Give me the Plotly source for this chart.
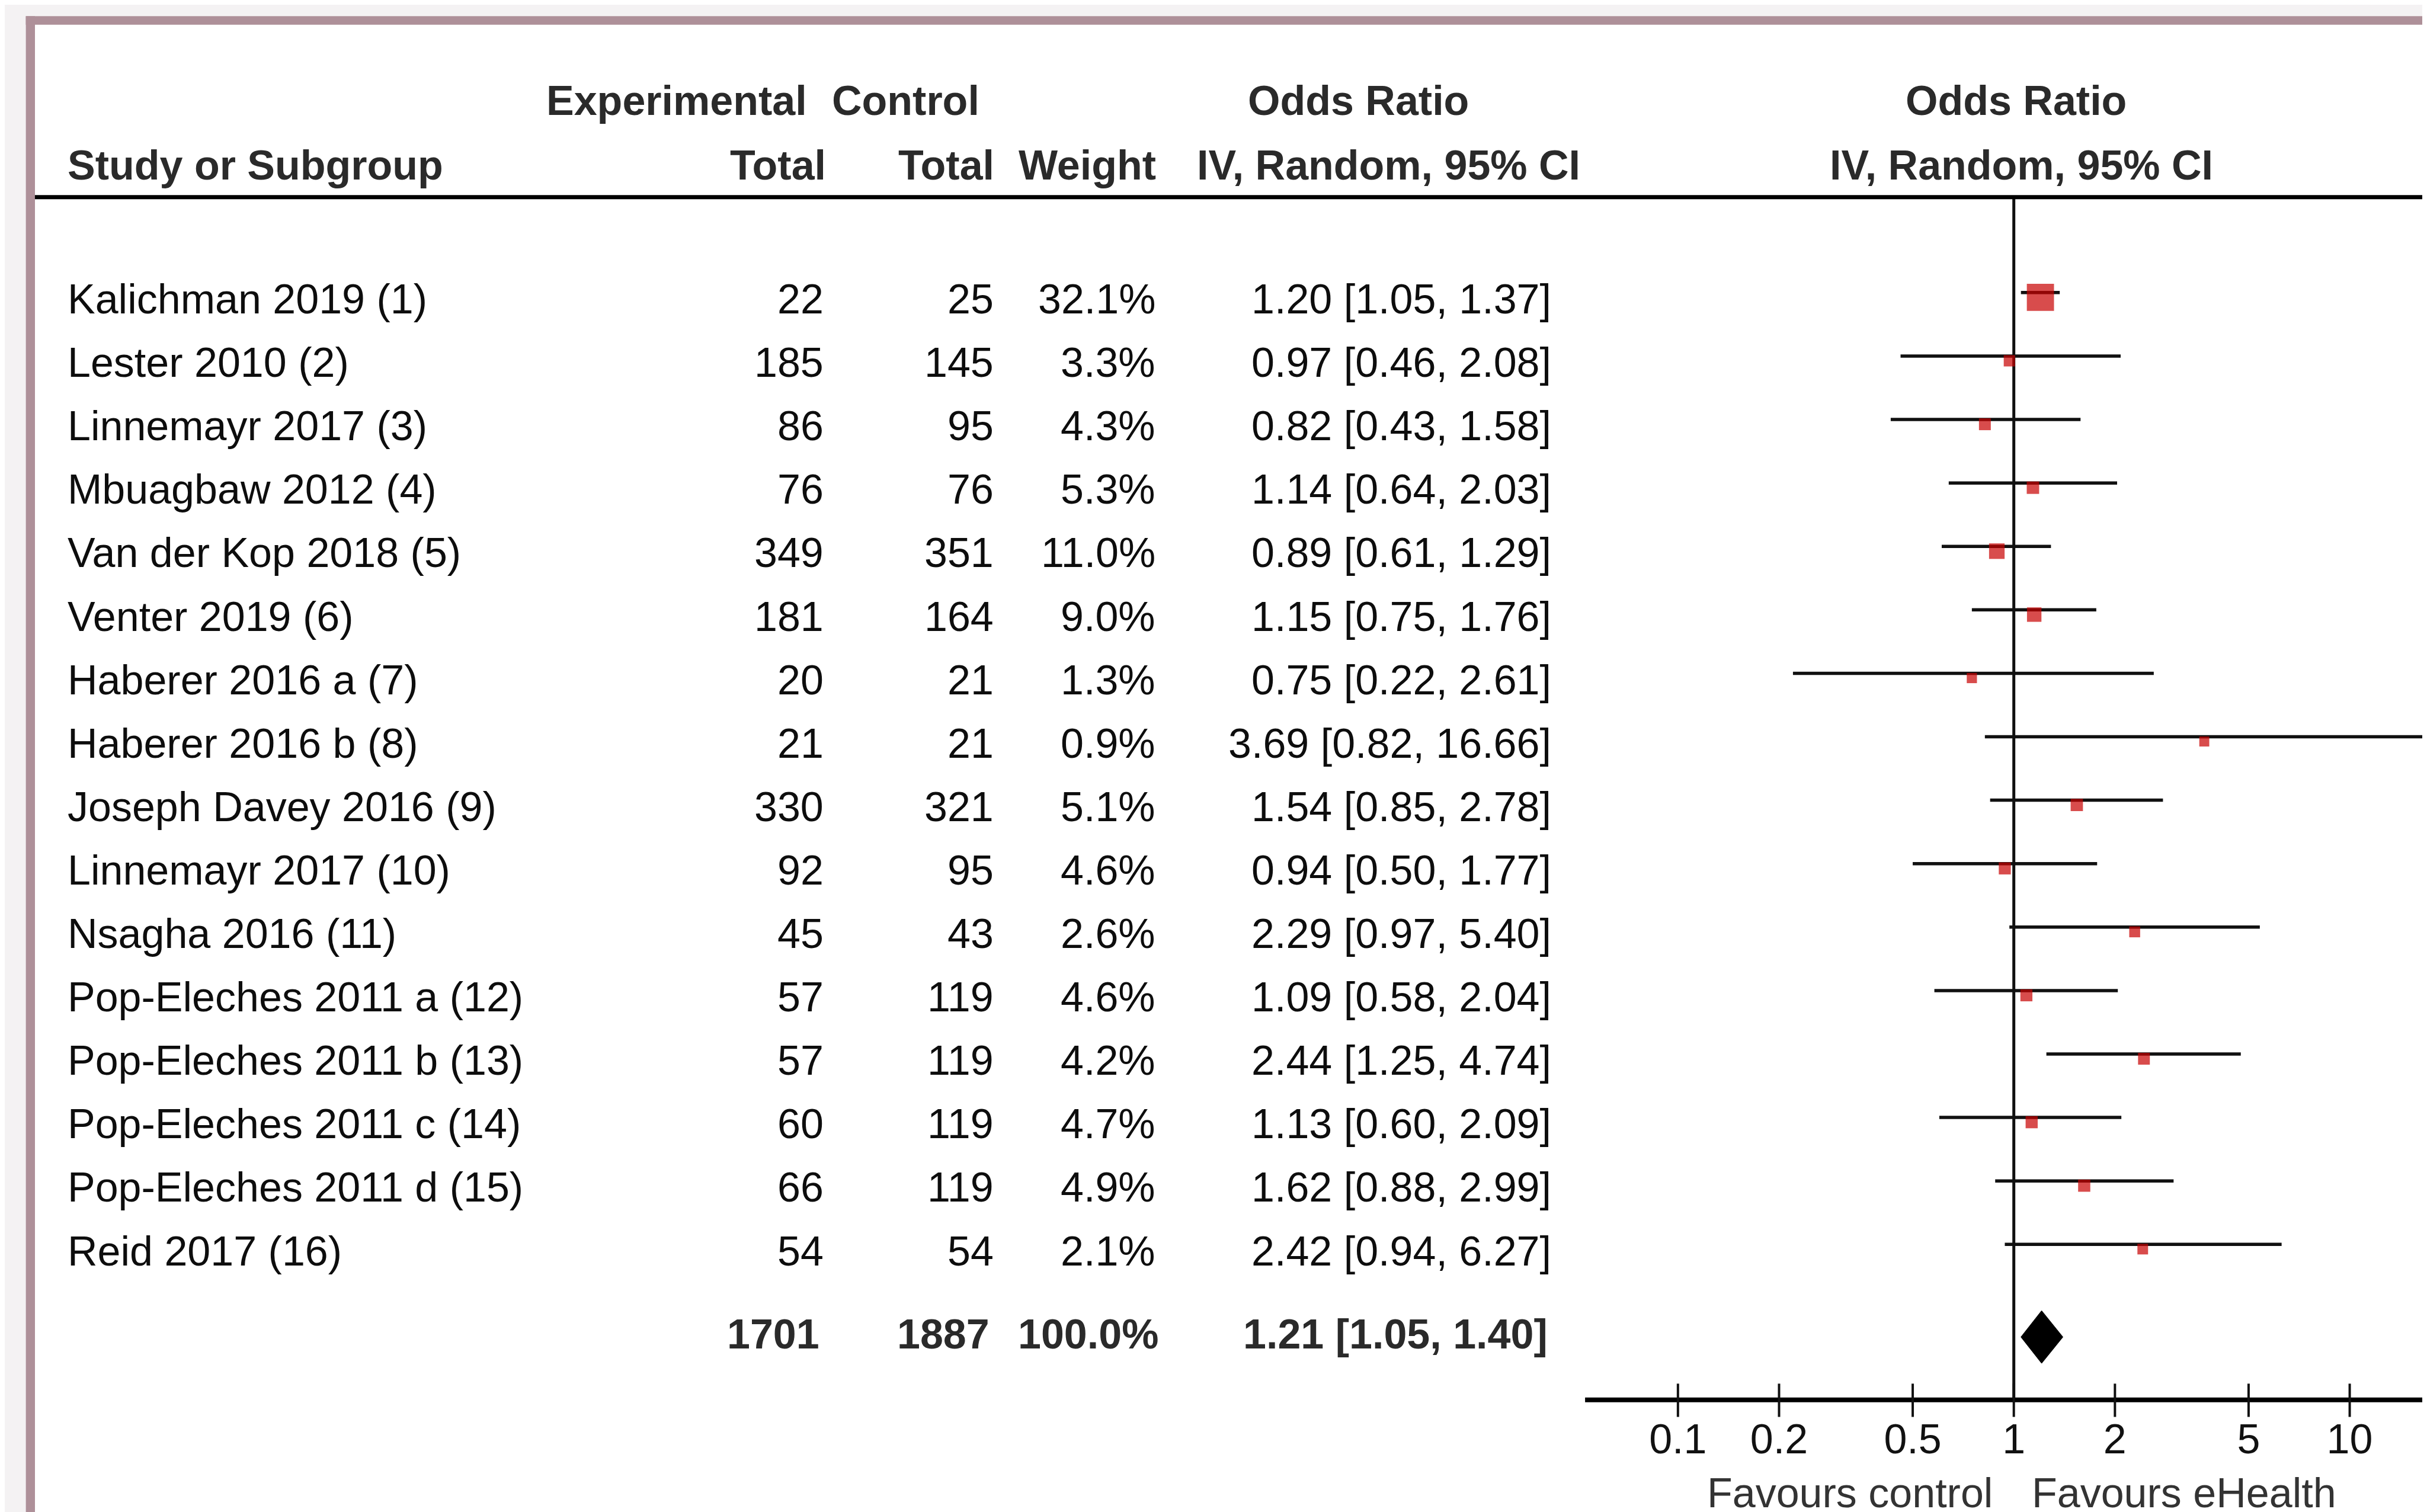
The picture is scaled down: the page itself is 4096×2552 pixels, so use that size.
import plotly.graph_objects as go

# ---------------- data ----------------
studies = ["Kalichman 2019 (1)", "Lester 2010 (2)", "Linnemayr 2017 (3)", "Mbuagbaw 2012 (4)",
           "Van der Kop 2018 (5)", "Venter 2019 (6)", "Haberer 2016 a (7)", "Haberer 2016 b (8)",
           "Joseph Davey 2016 (9)", "Linnemayr 2017 (10)", "Nsagha 2016 (11)",
           "Pop-Eleches 2011 a (12)", "Pop-Eleches 2011 b (13)", "Pop-Eleches 2011 c (14)",
           "Pop-Eleches 2011 d (15)", "Reid 2017 (16)"]
exp_total = [22, 185, 86, 76, 349, 181, 20, 21, 330, 92, 45, 57, 57, 60, 66, 54]
ctrl_total = [25, 145, 95, 76, 351, 164, 21, 21, 321, 95, 43, 119, 119, 119, 119, 54]
weights = [32.1, 3.3, 4.3, 5.3, 11.0, 9.0, 1.3, 0.9, 5.1, 4.6, 2.6, 4.6, 4.2, 4.7, 4.9, 2.1]
odds = [1.20, 0.97, 0.82, 1.14, 0.89, 1.15, 0.75, 3.69, 1.54, 0.94, 2.29, 1.09, 2.44, 1.13, 1.62, 2.42]
ci_lo = [1.05, 0.46, 0.43, 0.64, 0.61, 0.75, 0.22, 0.82, 0.85, 0.50, 0.97, 0.58, 1.25, 0.60, 0.88, 0.94]
ci_hi = [1.37, 2.08, 1.58, 2.03, 1.29, 1.76, 2.61, 16.66, 2.78, 1.77, 5.40, 2.04, 4.74, 2.09, 2.99, 6.27]

total_exp = 1701
total_ctrl = 1887
total_weight = 100.0
total_or = 1.21
total_lo = 1.05
total_hi = 1.40

tick_vals = [0.1, 0.2, 0.5, 1, 2, 5, 10]
tick_text = ["0.1", "0.2", "0.5", "1", "2", "5", "10"]

header_top = ["Experimental", "Control", "Odds Ratio", "Odds Ratio"]
header_bot = ["Study or Subgroup", "Total", "Total", "Weight", "IV, Random, 95% CI", "IV, Random, 95% CI"]
favours = ["Favours control", "Favours eHealth"]

# ---------------- layout geometry ----------------
W, H = 4096, 2552
REF_W, REF_H = 1568.0, 977.0          # preview units used for layout constants
ROW0, ROWH = 186.0, 41.0              # first study row and row pitch (preview units)
X_ONE, DECADE = 1298.0, 217.0         # OR = 1 position and decade width (preview units)


def row_of(py):
    return (py - ROW0) / ROWH


def log_of(px):
    return (px - X_ONE) / DECADE


def or_at(px):
    return 10 ** log_of(px)


def px_paper(px):
    return px / REF_W


FONT = "Liberation Sans Narrow, Arial Narrow, Liberation Sans, Arial, sans-serif"
FS = 70
DATA_C = "#0d0d0d"
HEAD_C = "#2a2a2a"
RED = "#c80000"
TEXT_DY = -0.08

fig = go.Figure()

n = len(studies)
rows = list(range(n))

# vertical line at OR = 1
fig.add_trace(go.Scatter(x=[1, 1], y=[row_of(124.3), row_of(902)], mode="lines",
                         line=dict(color="#111111", width=5), hoverinfo="skip"))

# confidence interval lines
cx, cy = [], []
for i in rows:
    cx += [ci_lo[i], ci_hi[i], None]
    cy += [i, i, None]
fig.add_trace(go.Scatter(x=cx, y=cy, mode="lines", line=dict(color="#111111", width=5.5),
                         hoverinfo="skip"))

# weight squares
fig.add_trace(go.Scatter(x=odds, y=[i + 0.075 for i in rows], mode="markers",
                         marker=dict(symbol="square", color=RED,
                                     size=[16 + 0.93 * w for w in weights],
                                     line=dict(width=0)),
                         hoverinfo="skip"))

# pooled diamond
r_tot = n + 0.46
half = 0.415
fig.add_trace(go.Scatter(x=[total_lo, total_or, total_hi, total_or, total_lo],
                         y=[r_tot, r_tot - half, r_tot, r_tot + half, r_tot],
                         mode="lines", fill="toself", fillcolor="#000000",
                         line=dict(color="#000000", width=1), hoverinfo="skip"))

# axis line
ax_row = row_of(901.5)
fig.add_trace(go.Scatter(x=[or_at(1021), or_at(REF_W)], y=[ax_row, ax_row], mode="lines",
                         line=dict(color="#000000", width=8), hoverinfo="skip"))

# ticks
tx, ty = [], []
for t in tick_vals:
    tx += [t, t, None]
    ty += [row_of(891), row_of(912.5), None]
fig.add_trace(go.Scatter(x=tx, y=ty, mode="lines", line=dict(color="#111111", width=4),
                         hoverinfo="skip"))

# tick labels
fig.add_trace(go.Scatter(x=tick_vals, y=[row_of(929.5)] * len(tick_vals), mode="text",
                         text=tick_text, textposition="middle center",
                         textfont=dict(family=FONT, size=FS, color="#111111"),
                         hoverinfo="skip"))

# ---------------- table text ----------------
ann = []


def add_text(text, px, row, anchor, color=DATA_C, bold=False):
    ann.append(dict(text=("<b>%s</b>" % text) if bold else text, x=px_paper(px), xref="paper",
                    y=row + TEXT_DY, yref="y", xanchor=anchor, yanchor="middle", showarrow=False,
                    font=dict(family=FONT, size=FS, color=color)))


rA = -2.94
rB = -1.925
add_text(header_top[0], 519, rA, "right", HEAD_C, True)
add_text(header_top[1], 630.5, rA, "right", HEAD_C, True)
add_text(header_top[2], 874.6, rA, "center", HEAD_C, True)
add_text(header_top[3], 1299.4, rA, "center", HEAD_C, True)

add_text(header_bot[0], 40, rB, "left", HEAD_C, True)
add_text(header_bot[1], 531.5, rB, "right", HEAD_C, True)
add_text(header_bot[2], 640, rB, "right", HEAD_C, True)
add_text(header_bot[3], 744.5, rB, "right", HEAD_C, True)
add_text(header_bot[4], 894, rB, "center", HEAD_C, True)
add_text(header_bot[5], 1303, rB, "center", HEAD_C, True)

for i in rows:
    r = i + 0.185
    add_text(studies[i], 40, r, "left")
    add_text(str(exp_total[i]), 530, r, "right")
    add_text(str(ctrl_total[i]), 639.5, r, "right")
    add_text("%.1f%%" % weights[i], 744, r, "right")
    add_text("%.2f [%.2f, %.2f]" % (odds[i], ci_lo[i], ci_hi[i]), 1000, r, "right")

rT = n + 0.5
add_text(str(total_exp), 527, rT, "right", HEAD_C, True)
add_text(str(total_ctrl), 637, rT, "right", HEAD_C, True)
add_text("%.1f%%" % total_weight, 746, rT, "right", HEAD_C, True)
add_text("%.2f [%.2f, %.2f]" % (total_or, total_lo, total_hi), 997.5, rT, "right", HEAD_C, True)

rF = row_of(961.5) - TEXT_DY
add_text(favours[0], 1285, rF, "right", "#333333")
add_text(favours[1], 1309, rF, "left", "#333333")

# ---------------- frame / rules ----------------
GRAY = "#f4f2f3"
MAUVE = "#ae9099"
shapes = [
    dict(type="rect", xref="paper", yref="paper", x0=0, x1=1, y0=1 - 19.3 / H, y1=1,
         fillcolor=GRAY, line=dict(width=0), layer="below"),
    dict(type="rect", xref="paper", yref="paper", x0=0, x1=35.6 / W, y0=0, y1=1,
         fillcolor=GRAY, line=dict(width=0), layer="below"),
    dict(type="rect", xref="paper", yref="paper", x0=35.6 / W, x1=1, y0=1 - 33.7 / H,
         y1=1 - 19.3 / H, fillcolor=MAUVE, line=dict(width=0), layer="below"),
    dict(type="rect", xref="paper", yref="paper", x0=35.6 / W, x1=51.0 / W, y0=0,
         y1=1 - 19.3 / H, fillcolor=MAUVE, line=dict(width=0), layer="below"),
    dict(type="line", xref="paper", yref="y", x0=19.5 / REF_W, x1=1,
         y0=row_of(124.3), y1=row_of(124.3), line=dict(color="#000000", width=7)),
]

fig.update_layout(
    width=W, height=H, autosize=False,
    margin=dict(l=0, r=0, t=0, b=0, pad=0),
    paper_bgcolor="#ffffff", plot_bgcolor="rgba(0,0,0,0)",
    showlegend=False,
    xaxis=dict(type="log", range=[log_of(0), log_of(REF_W)], domain=[0, 1], visible=False,
               fixedrange=True),
    yaxis=dict(range=[row_of(REF_H), row_of(0)], domain=[0, 1], visible=False,
               fixedrange=True),
    annotations=ann,
    shapes=shapes,
)

fig.write_html("out.html", config={"displayModeBar": False})
